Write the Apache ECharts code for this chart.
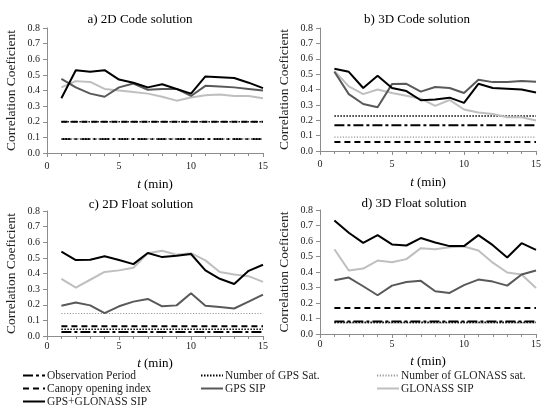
<!DOCTYPE html>
<html>
<head>
<meta charset="utf-8">
<script src="https://cdn.jsdelivr.net/npm/echarts@6/dist/echarts.min.js"></script>
<style>
  html, body { margin: 0; padding: 0; background: #fff; }
  #chart { width: 544px; height: 411px; }
</style>
</head>
<body>
<div id="chart"></div>
<script>
// Time after start of observation (min)
const t = [1, 2, 3, 4, 5, 6, 7, 8, 9, 10, 11, 12, 13, 14, 15];

const panelTitles = ['a) 2D Code solution', 'b) 3D Code solution', 'c) 2D Float solution', 'd) 3D Float solution'];
const yTicks = ['0.0', '0.1', '0.2', '0.3', '0.4', '0.5', '0.6', '0.7', '0.8'];

// Correlation of each factor with positioning accuracy, per panel (a, b, c, d)
const gpsGlonassSip = [
  [0.35, 0.53, 0.52, 0.53, 0.47, 0.45, 0.42, 0.44, 0.41, 0.38, 0.49, 0.485, 0.48, 0.45, 0.415],
  [0.535, 0.515, 0.41, 0.49, 0.41, 0.39, 0.33, 0.335, 0.347, 0.313, 0.437, 0.41, 0.405, 0.40, 0.38],
  [0.54, 0.486, 0.488, 0.51, 0.486, 0.46, 0.531, 0.505, 0.514, 0.525, 0.42, 0.366, 0.333, 0.417, 0.456],
  [0.733, 0.653, 0.588, 0.638, 0.578, 0.571, 0.619, 0.59, 0.567, 0.567, 0.638, 0.573, 0.494, 0.586, 0.543]
];
const gpsSip = [
  [0.475, 0.42, 0.38, 0.36, 0.42, 0.445, 0.405, 0.41, 0.41, 0.365, 0.43, 0.425, 0.42, 0.41, 0.40],
  [0.515, 0.37, 0.306, 0.285, 0.435, 0.437, 0.386, 0.416, 0.41, 0.377, 0.463, 0.448, 0.448, 0.455, 0.45],
  [0.194, 0.215, 0.196, 0.146, 0.19, 0.22, 0.237, 0.19, 0.196, 0.273, 0.194, 0.185, 0.176, 0.22, 0.265],
  [0.347, 0.364, 0.308, 0.25, 0.312, 0.336, 0.343, 0.276, 0.265, 0.315, 0.351, 0.338, 0.312, 0.384, 0.41]
];
const glonassSip = [
  [0.42, 0.46, 0.455, 0.41, 0.40, 0.39, 0.38, 0.36, 0.335, 0.355, 0.37, 0.375, 0.365, 0.365, 0.35],
  [0.52, 0.42, 0.37, 0.40, 0.377, 0.36, 0.34, 0.293, 0.332, 0.27, 0.25, 0.241, 0.22, 0.22, 0.198],
  [0.366, 0.31, 0.36, 0.41, 0.42, 0.437, 0.53, 0.546, 0.52, 0.53, 0.484, 0.41, 0.394, 0.383, 0.346],
  [0.547, 0.41, 0.422, 0.474, 0.463, 0.483, 0.554, 0.547, 0.56, 0.565, 0.539, 0.46, 0.397, 0.384, 0.297]
];
// Factors whose correlation does not change with t (one value per panel)
const observationPeriod = [0.09, 0.168, 0.026, 0.08];
const numberGpsSat = [0.2, 0.228, 0.043, 0.075];
const numberGlonassSat = [0.09, 0.09, 0.144, 0.072];
const canopyOpening = [0.2, 0.058, 0.062, 0.168];

const FONT = 'Liberation Serif';
const grids = [
  { left: 47, top: 28, width: 216, height: 125 },
  { left: 320, top: 28, width: 219, height: 123 },
  { left: 47, top: 211, width: 216, height: 125 },
  { left: 320, top: 210, width: 221, height: 124 }
];
const titlePos = [[135, 8], [412, 8], [136, 193], [409, 192]];
// bottom row panels sit a little tighter to their axis labels
const xLabelMargin = [8, 8, 5, 5];
const xNameGap = [25, 25, 21, 21];

const styles = {
  'Observation Period': { color: '#000', width: 2, type: [10, 3, 3, 3] },
  'Number of GPS Sat.': { color: '#000', width: 1.6, type: [1.5, 1.5] },
  'Number of GLONASS sat.': { color: '#9a9a9a', width: 1.2, type: [1.2, 1.6] },
  'Canopy opening index': { color: '#000', width: 2, type: [6, 4] },
  'GPS SIP': { color: '#595959', width: 2, type: 'solid' },
  'GLONASS SIP': { color: '#bfbfbf', width: 2, type: 'solid' },
  'GPS+GLONASS SIP': { color: '#000', width: 2, type: 'solid' }
};

function mkSeries(name, values, idx) {
  const st = styles[name];
  return {
    name: name,
    type: 'line',
    xAxisIndex: idx,
    yAxisIndex: idx,
    symbol: 'none',
    silent: true,
    animation: false,
    color: st.color,
    lineStyle: { color: st.color, width: st.width, type: st.type },
    data: t.map((x, i) => [x, Array.isArray(values) ? values[i] : values])
  };
}

const series = [];
const xAxes = [];
const yAxes = [];
const titles = [];
for (let p = 0; p < 4; p++) {
  titles.push({
    text: panelTitles[p], left: titlePos[p][0], top: titlePos[p][1], textAlign: 'center',
    textStyle: { fontFamily: FONT, fontSize: 13, fontWeight: 'normal', color: '#000' }
  });
  xAxes.push({
    gridIndex: p, type: 'value', min: 0, max: 15, interval: 5,
    name: '{i|t} (min)', nameLocation: 'middle', nameGap: xNameGap[p],
    nameTextStyle: { fontFamily: FONT, fontSize: 13, color: '#000',
      rich: { i: { fontFamily: FONT, fontSize: 13, fontStyle: 'italic', color: '#000' } } },
    axisLine: { show: true, lineStyle: { color: '#8c8c8c', width: 1 } },
    axisTick: { show: true, length: 4, lineStyle: { color: '#8c8c8c' } },
    minorTick: { show: true, splitNumber: 5, length: 3, lineStyle: { color: '#8c8c8c' } },
    axisLabel: { fontFamily: FONT, fontSize: 10, color: '#222', margin: xLabelMargin[p] },
    splitLine: { show: false }
  });
  yAxes.push({
    gridIndex: p, type: 'value', min: 0, max: 0.8, interval: 0.1,
    name: 'Correlation Coeficient', nameLocation: 'middle', nameGap: 29,
    nameTextStyle: { fontFamily: FONT, fontSize: 13.5, color: '#222' },
    axisLine: { show: true, lineStyle: { color: '#8c8c8c', width: 1 } },
    axisTick: { show: true, length: 4, lineStyle: { color: '#8c8c8c' } },
    axisLabel: { fontFamily: FONT, fontSize: 10, color: '#222', margin: 7,
      formatter: v => yTicks[Math.round(v * 10)] },
    splitLine: { show: false }
  });
  series.push(mkSeries('Observation Period', observationPeriod[p], p));
  series.push(mkSeries('Number of GLONASS sat.', numberGlonassSat[p], p));
  series.push(mkSeries('Canopy opening index', canopyOpening[p], p));
  series.push(mkSeries('Number of GPS Sat.', numberGpsSat[p], p));
  series.push(mkSeries('GLONASS SIP', glonassSip[p], p));
  series.push(mkSeries('GPS SIP', gpsSip[p], p));
  series.push(mkSeries('GPS+GLONASS SIP', gpsGlonassSip[p], p));
}

const legendBase = {
  orient: 'vertical', itemWidth: 22, itemHeight: 10, itemGap: 0, padding: 0,
  selectedMode: false,
  itemStyle: { opacity: 0 },
  textStyle: { fontFamily: FONT, fontSize: 11.5, lineHeight: 13, color: '#222', padding: [0, 0, 0, -3] }
};
const legends = [
  Object.assign({}, legendBase, { left: 22, top: 369,
    data: ['Observation Period', 'Canopy opening index', 'GPS+GLONASS SIP'] }),
  Object.assign({}, legendBase, { left: 200, top: 369,
    data: ['Number of GPS Sat.', 'GPS SIP'] }),
  Object.assign({}, legendBase, { left: 376, top: 369,
    data: ['Number of GLONASS sat.', 'GLONASS SIP'] })
];

const chart = echarts.init(document.getElementById('chart'), null, { renderer: 'canvas' });
chart.setOption({
  backgroundColor: '#fff',
  animation: false,
  title: titles,
  grid: grids,
  xAxis: xAxes,
  yAxis: yAxes,
  legend: legends,
  series: series
});
</script>
</body>
</html>
